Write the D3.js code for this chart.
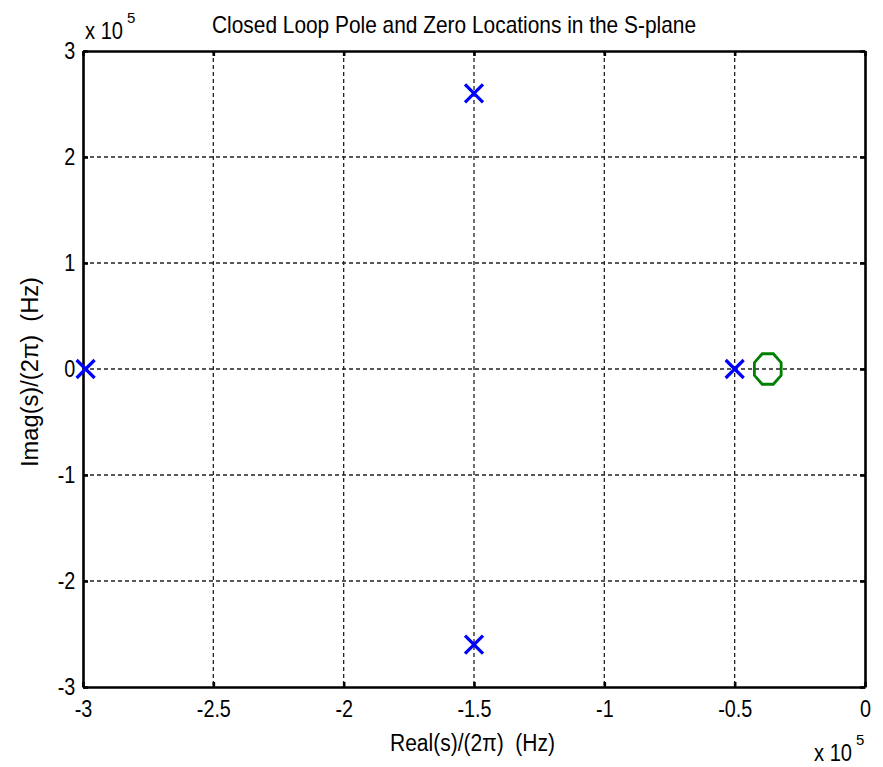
<!DOCTYPE html>
<html><head><meta charset="utf-8">
<script src="https://cdn.jsdelivr.net/npm/d3@7"></script>
<style>
html,body{margin:0;padding:0;background:#fff;}
text{font-family:"Liberation Sans",Arial,sans-serif;fill:#000;white-space:pre;}
</style></head>
<body><svg id="c" width="883" height="767"></svg>
<script>
// Data (Hz)
const poleReal = [-299000, -150000, -150000, -50000];
const poleImag = [0, 260000, -260000, 0];
const zeroReal = [-37300];
const zeroImag = [0];
const xTicks = [-300000, -250000, -200000, -150000, -100000, -50000, 0];
const yTicks = [-300000, -200000, -100000, 0, 100000, 200000, 300000];
const titleText = "Closed Loop Pole and Zero Locations in the S-plane";
const xLabel = "Real(s)/(2\u03c0)  (Hz)";
const yLabel = "Imag(s)/(2\u03c0)  (Hz)";

const svg = d3.select("#c");
const L = 83, R = 865, T = 51, B = 687;
const x = d3.scaleLinear().domain([-300000, 0]).range([L, R]);
const y = d3.scaleLinear().domain([-300000, 300000]).range([B, T]);
const fmt = v => String(v / 100000);

// grid
const g = svg.append("g");
g.selectAll("line.gx").data(xTicks.filter(t => t > -300000 && t < 0)).enter().append("line")
  .attr("x1", d => x(d)).attr("x2", d => x(d)).attr("y1", T).attr("y2", B)
  .attr("stroke", "#222").attr("stroke-width", 1.3).attr("stroke-dasharray", "4,3");
g.selectAll("line.gy").data(yTicks.filter(t => t > -300000 && t < 300000)).enter().append("line")
  .attr("y1", d => y(d)).attr("y2", d => y(d)).attr("x1", L).attr("x2", R)
  .attr("stroke", "#222").attr("stroke-width", 1.3).attr("stroke-dasharray", "4,3");

// axes
const xAxB = d3.axisBottom(x).tickValues(xTicks).tickFormat(fmt).tickSizeInner(-5).tickSizeOuter(0).tickPadding(14);
const xAxT = d3.axisTop(x).tickValues(xTicks).tickFormat("").tickSizeInner(-5).tickSizeOuter(0);
const yAxL = d3.axisLeft(y).tickValues(yTicks).tickFormat(fmt).tickSizeInner(-5).tickSizeOuter(0).tickPadding(9);
const yAxR = d3.axisRight(y).tickValues(yTicks).tickFormat("").tickSizeInner(-5).tickSizeOuter(0);
function style(sel){
  sel.attr("font-family", null).attr("font-size", null);
  sel.select(".domain").attr("stroke", "#000").attr("stroke-width", 2.6);
  sel.selectAll(".tick line").attr("stroke", "#000").attr("stroke-width", 2.6);
  sel.selectAll(".tick text").attr("font-size", 23).attr("fill", "#000")
    .attr("transform", "scale(0.86,1)");
}
svg.append("g").attr("transform", `translate(0,${B})`).call(xAxB).call(style);
svg.append("g").attr("transform", `translate(0,${T})`).call(xAxT).call(style);
svg.append("g").attr("transform", `translate(${L},0)`).call(yAxL).call(style);
svg.append("g").attr("transform", `translate(${R},0)`).call(yAxR).call(style);

// poles (x markers)
const poles = poleReal.map((r, i) => ({r, i: poleImag[i]}));
const s = 9;
const pg = svg.append("g");
poles.forEach(p => {
  const cx = x(p.r), cy = y(p.i);
  pg.append("path").attr("d", `M${cx-s},${cy-s}L${cx+s},${cy+s}M${cx-s},${cy+s}L${cx+s},${cy-s}`)
    .attr("stroke", "#0000ff").attr("stroke-width", 3.2).attr("fill", "none");
});

// zeros (octagon circle markers)
const zeros = zeroReal.map((r, i) => ({r, i: zeroImag[i]}));
zeros.forEach(z => {
  const cx = x(z.r), cy = y(z.i);
  const pts = d3.range(8).map(k => {
    const a = Math.PI / 8 + k * Math.PI / 4;
    return [cx + 14.5 * Math.cos(a), cy + 16.5 * Math.sin(a)];
  });
  svg.append("path").attr("d", d3.line()(pts) + "Z")
    .attr("stroke", "#008000").attr("stroke-width", 2.8).attr("fill", "none");
});

// title and labels
svg.append("text").attr("x", 212).attr("y", 33).attr("font-size", 24)
  .attr("textLength", 484).attr("lengthAdjust", "spacingAndGlyphs").text(titleText);
svg.append("text").attr("x", 390).attr("y", 751).attr("font-size", 23)
  .attr("textLength", 165).attr("lengthAdjust", "spacingAndGlyphs").text(xLabel);
svg.append("text").attr("transform", "translate(38,467) rotate(-90)").attr("font-size", 23)
  .attr("textLength", 190).attr("lengthAdjust", "spacingAndGlyphs").text(yLabel);

// exponent labels
function expo(xp, yp){
  svg.append("text").attr("x", xp).attr("y", yp).attr("font-size", 23)
    .attr("textLength", 38).attr("lengthAdjust", "spacingAndGlyphs").text("x 10");
  svg.append("text").attr("x", xp + 42).attr("y", yp - 16).attr("font-size", 15).text("5");
}
expo(85, 39);
expo(814, 761);
</script></body></html>
